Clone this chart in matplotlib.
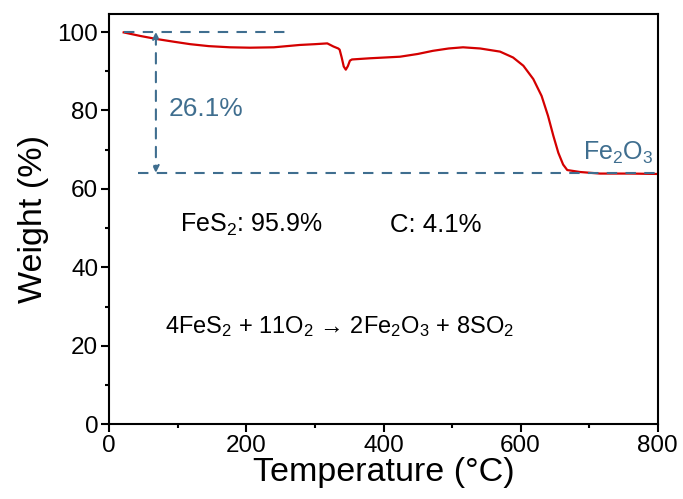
import matplotlib
matplotlib.use("Agg")
import matplotlib.pyplot as plt
from matplotlib.ticker import MultipleLocator

temperature = [21, 45, 69.5, 95, 118, 145, 176, 205, 240, 278, 300, 318, 327, 334, 336, 339, 342,
               345, 348, 351, 354, 380, 424, 450, 472, 495, 516, 541, 570, 589, 604, 618.5,
               630.6, 640, 647.8, 655, 662, 668, 686.6, 716, 760, 800]
weight = [99.9, 99.0, 98.2, 97.5, 96.9, 96.4, 96.1, 96.0, 96.1, 96.7, 96.9, 97.1, 96.3, 95.8,
          95.5, 93.5, 91.2, 90.4, 91.3, 92.7, 93.0, 93.3, 93.7, 94.4, 95.2, 95.8, 96.1, 95.8,
          95.0, 93.5, 91.4, 88.0, 83.7, 78.6, 73.5, 69.2, 66.2, 64.8, 64.3, 63.9, 63.9, 63.8]

x_ticks = [0, 200, 400, 600, 800]
y_ticks = [0, 20, 40, 60, 80, 100]
top_level = 100.0
residue_level = 64.1
loss_label = "26.1%"

plt.rcParams['font.family'] = ['Liberation Sans', 'DejaVu Sans']
plt.rcParams['mathtext.fontset'] = 'custom'
plt.rcParams['mathtext.rm'] = 'Liberation Sans'

fig = plt.figure(figsize=(6.83, 4.99), dpi=100)
ax = fig.add_axes([0.160, 0.150, 0.803, 0.822])

ax.plot(temperature, weight, color='#d40000', lw=1.6)

blue = '#3f6e8f'
ax.plot([22, 265], [top_level, top_level], ls=(0, (5, 4)), color=blue, lw=1.5)
ax.plot([42, 800], [residue_level, residue_level], ls=(0, (5, 4)), color=blue, lw=1.5)
ax.annotate('', xy=(68, residue_level), xytext=(68, top_level),
            arrowprops=dict(arrowstyle='<|-|>', color=blue, lw=1.5, ls=(0, (5, 4)),
                            mutation_scale=10, shrinkA=0, shrinkB=0))
ax.text(86, 78.5, loss_label, color=blue, fontsize=19, va='baseline', ha='left')
ax.text(691, 67.5, r'Fe$\mathregular{_2}$O$\mathregular{_3}$', color=blue, fontsize=18,
        va='baseline', ha='left')
ax.text(103.5, 49.1, r'FeS$\mathregular{_2}$: 95.9%', fontsize=18, va='baseline', ha='left')
ax.text(409.6, 49.1, 'C: 4.1%', fontsize=18.5, va='baseline', ha='left')
ax.text(81.6, 23.3, r'4FeS$\mathregular{_2}$ + 11O$\mathregular{_2}$ → 2Fe$\mathregular{_2}$O$\mathregular{_3}$ + 8SO$\mathregular{_2}$',
        fontsize=17, va='baseline', ha='left')

ax.set_xlim(0, 800)
ax.set_ylim(0, 104.6)
ax.set_xticks(x_ticks)
ax.set_yticks(y_ticks)
ax.xaxis.set_minor_locator(MultipleLocator(100))
ax.yaxis.set_minor_locator(MultipleLocator(10))
ax.tick_params(which='major', direction='out', length=6, width=1.5, labelsize=17.5, pad=2)
ax.tick_params(which='minor', direction='out', length=3, width=1.5)
for s in ax.spines.values():
    s.set_linewidth(1.5)

ax.set_xlabel('Temperature (°C)', fontsize=24.5, labelpad=0)
ax.set_ylabel('Weight (%)', fontsize=24.5, labelpad=6)

fig.savefig('out.png', dpi=100)
